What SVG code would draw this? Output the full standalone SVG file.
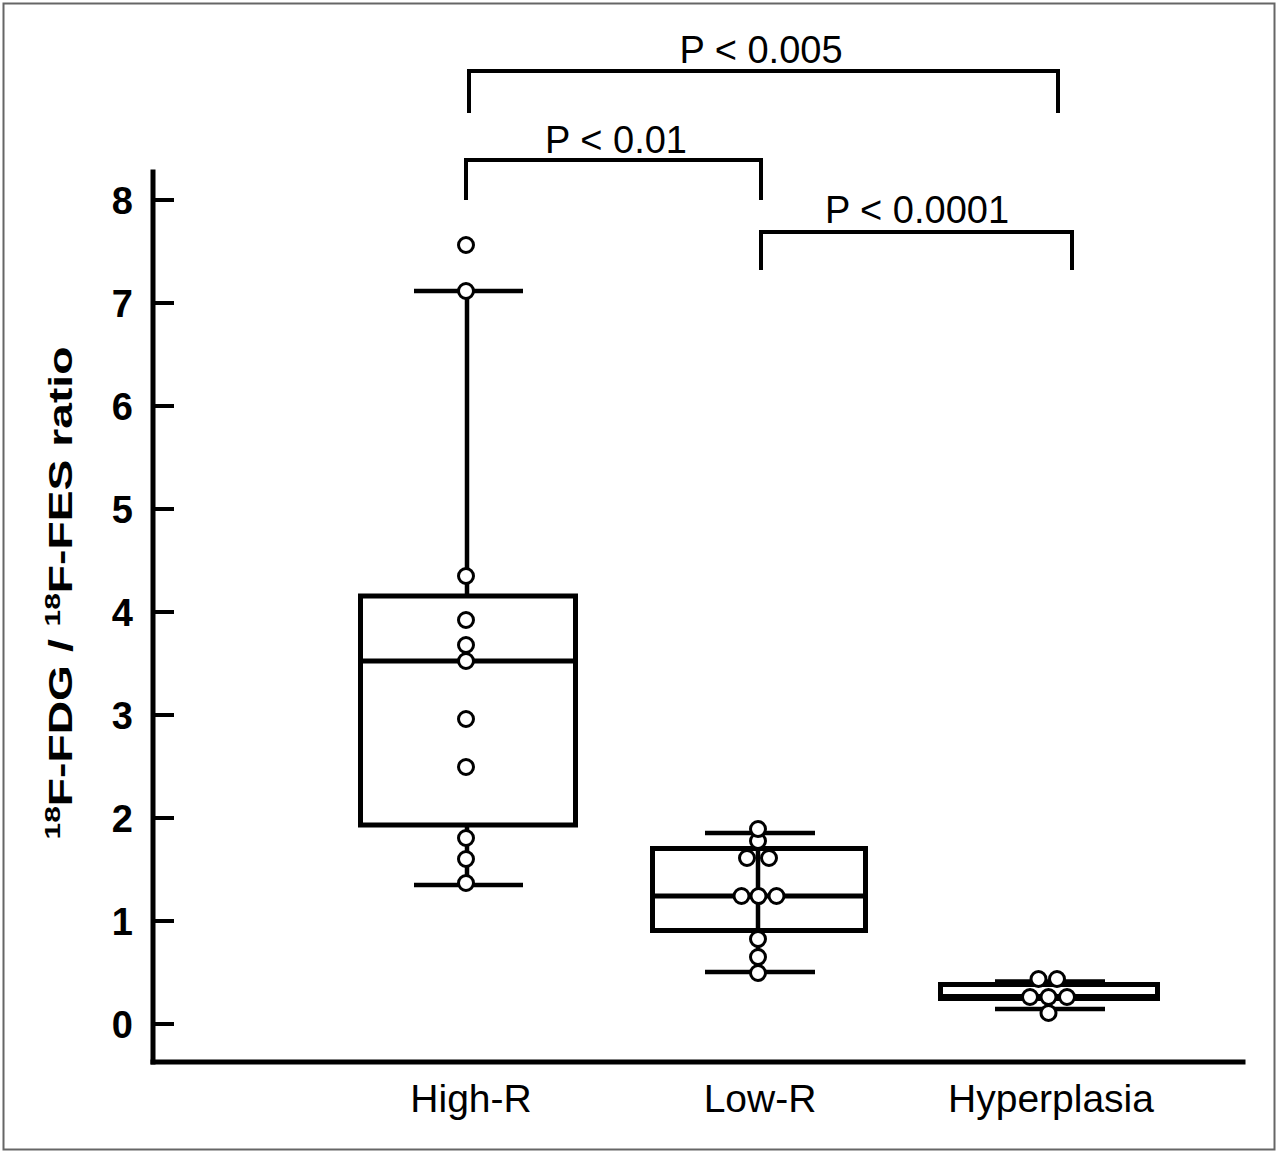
<svg xmlns="http://www.w3.org/2000/svg" width="1280" height="1155" viewBox="0 0 1280 1155">
<style>
  .ax { stroke:#000; stroke-width:5; fill:none; stroke-linecap:square; }
  .tk { stroke:#000; stroke-width:4; fill:none; }
  .bx { stroke:#000; stroke-width:5; fill:none; }
  .wh { stroke:#000; stroke-width:4.5; fill:none; }
  .pt { stroke:#000; stroke-width:3; fill:#fff; }
  .br { stroke:#000; stroke-width:4; fill:none; }
  .tl { font-family:"Liberation Sans", Arial, sans-serif; font-weight:bold; font-size:38px; fill:#000; text-anchor:end; }
  .cl { font-family:"Liberation Sans", Arial, sans-serif; font-size:39px; fill:#000; text-anchor:middle; }
  .pl { font-family:"Liberation Sans", Arial, sans-serif; font-size:38px; fill:#000; text-anchor:middle; }
  .yt { font-family:"Liberation Sans", Arial, sans-serif; font-weight:bold; font-size:34px; fill:#000; text-anchor:middle; }
</style>
<rect x="0" y="0" width="1280" height="1155" fill="#fff"/>
<rect x="3.5" y="3.5" width="1271" height="1146" fill="none" stroke="#666" stroke-width="2"/>

<g id="axes">
  <line class="ax" x1="153" y1="172" x2="153" y2="1062"/>
  <line class="ax" x1="153" y1="1062" x2="1243" y2="1062"/>
  <g id="ticks">
    <line class="tk" x1="153" y1="200" x2="174" y2="200"/>
    <line class="tk" x1="153" y1="303" x2="174" y2="303"/>
    <line class="tk" x1="153" y1="406" x2="174" y2="406"/>
    <line class="tk" x1="153" y1="509" x2="174" y2="509"/>
    <line class="tk" x1="153" y1="612" x2="174" y2="612"/>
    <line class="tk" x1="153" y1="715" x2="174" y2="715"/>
    <line class="tk" x1="153" y1="818" x2="174" y2="818"/>
    <line class="tk" x1="153" y1="921" x2="174" y2="921"/>
    <line class="tk" x1="153" y1="1024" x2="174" y2="1024"/>
  </g>
  <g id="tick-labels">
    <text class="tl" x="133" y="214">8</text>
    <text class="tl" x="133" y="317">7</text>
    <text class="tl" x="133" y="420">6</text>
    <text class="tl" x="133" y="523">5</text>
    <text class="tl" x="133" y="626">4</text>
    <text class="tl" x="133" y="729">3</text>
    <text class="tl" x="133" y="832">2</text>
    <text class="tl" x="133" y="935">1</text>
    <text class="tl" x="133" y="1038">0</text>
  </g>
  <text id="y-title" class="yt" transform="translate(72,593) rotate(-90) scale(1.36,1)"><tspan font-size="22" dy="-12">18</tspan><tspan dy="12">F-FDG / </tspan><tspan font-size="22" dy="-12">18</tspan><tspan dy="12">F-FES ratio</tspan></text>
  <g id="x-labels">
    <text class="cl" x="471" y="1112">High-R</text>
    <text class="cl" x="760" y="1112">Low-R</text>
    <text class="cl" x="1051" y="1112">Hyperplasia</text>
  </g>
</g>

<g id="high-r">
  <line class="wh" x1="467" y1="291" x2="467" y2="594"/>
  <line class="wh" x1="467" y1="823" x2="467" y2="882"/>
  <line class="wh" x1="414" y1="291" x2="523" y2="291"/>
  <line class="wh" x1="414" y1="885" x2="523" y2="885"/>
  <rect class="bx" x="360.5" y="596" width="215" height="229"/>
  <line class="bx" x1="360" y1="661" x2="576" y2="661"/>
  <circle class="pt" cx="466" cy="245" r="7.5"/>
  <circle class="pt" cx="466" cy="291" r="7.5"/>
  <circle class="pt" cx="466" cy="576" r="7.5"/>
  <circle class="pt" cx="466" cy="620" r="7.5"/>
  <circle class="pt" cx="466" cy="645" r="7.5"/>
  <circle class="pt" cx="466" cy="661" r="7.5"/>
  <circle class="pt" cx="466" cy="719" r="7.5"/>
  <circle class="pt" cx="466" cy="767" r="7.5"/>
  <circle class="pt" cx="466" cy="838" r="7.5"/>
  <circle class="pt" cx="466" cy="859" r="7.5"/>
  <circle class="pt" cx="466" cy="883" r="7.5"/>
</g>

<g id="low-r">
  <line class="wh" x1="758" y1="833" x2="758" y2="972"/>
  <line class="wh" x1="705" y1="833" x2="815" y2="833"/>
  <line class="wh" x1="705" y1="972" x2="815" y2="972"/>
  <rect class="bx" x="652.5" y="848.5" width="213" height="82"/>
  <line class="bx" x1="652" y1="896" x2="866" y2="896"/>
  <circle class="pt" cx="758" cy="841" r="7.5"/>
  <circle class="pt" cx="747" cy="858" r="7.5"/>
  <circle class="pt" cx="769" cy="858" r="7.5"/>
  <circle class="pt" cx="758" cy="829" r="7.5"/>
  <circle class="pt" cx="741.5" cy="896" r="7.5"/>
  <circle class="pt" cx="758.5" cy="896" r="7.5"/>
  <circle class="pt" cx="776.5" cy="896" r="7.5"/>
  <circle class="pt" cx="758" cy="973" r="7.5"/>
  <circle class="pt" cx="758" cy="957" r="7.5"/>
  <circle class="pt" cx="758" cy="939" r="7.5"/>
</g>

<g id="hyperplasia">
  <line class="wh" x1="995" y1="981.5" x2="1105" y2="981.5"/>
  <line class="wh" x1="995" y1="1009" x2="1105" y2="1009"/>
  <rect class="bx" x="940.5" y="984.5" width="217" height="12"/>
  <line class="bx" x1="938" y1="998.5" x2="1160" y2="998.5"/>
  <circle class="pt" cx="1038.5" cy="979" r="7.5"/>
  <circle class="pt" cx="1057" cy="979" r="7.5"/>
  <circle class="pt" cx="1048.5" cy="1013" r="7.5"/>
  <circle class="pt" cx="1030" cy="997" r="7.5"/>
  <circle class="pt" cx="1048.5" cy="997" r="7.5"/>
  <circle class="pt" cx="1067" cy="997" r="7.5"/>
</g>

<g id="connectors">
  <path class="br" d="M469,113 V71 H1058 V113"/>
  <path class="br" d="M466,200 V160 H761 V200"/>
  <path class="br" d="M761,270 V232 H1072 V270"/>
</g>
<g id="connector-labels">
  <text class="pl" x="761" y="63">P &lt; 0.005</text>
  <text class="pl" x="616" y="153">P &lt; 0.01</text>
  <text class="pl" x="917" y="223">P &lt; 0.0001</text>
</g>
</svg>
